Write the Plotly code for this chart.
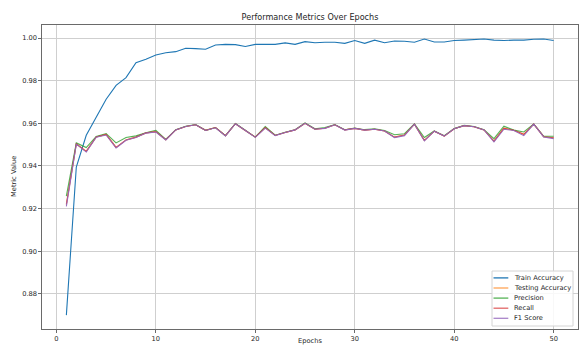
import plotly.graph_objects as go

# ---- data -------------------------------------------------------------
epochs = list(range(1, 51))

train_accuracy = [
    0.8700, 0.9395, 0.9544, 0.9630, 0.9713, 0.9778, 0.9814, 0.9884, 0.9900, 0.9920,
    0.9931, 0.9936, 0.9952, 0.9950, 0.9947, 0.9967, 0.9970, 0.9969, 0.9960, 0.9970,
    0.9970, 0.9970, 0.9977, 0.9970, 0.9983, 0.9978, 0.9980, 0.9980, 0.9975, 0.9988,
    0.9975, 0.9990, 0.9978, 0.9986, 0.9985, 0.9980, 0.9995, 0.9981, 0.9981, 0.9988,
    0.9990, 0.9994, 0.9995, 0.9990, 0.9988, 0.9990, 0.9990, 0.9994, 0.9995, 0.9988,
]

testing_accuracy = [
    0.9220, 0.9504, 0.9468, 0.9536, 0.9548, 0.9487, 0.9522, 0.9535, 0.9555, 0.9561,
    0.9523, 0.9569, 0.9585, 0.9593, 0.9567, 0.9580, 0.9542, 0.9598, 0.9566, 0.9535,
    0.9580, 0.9543, 0.9557, 0.9569, 0.9600, 0.9572, 0.9577, 0.9593, 0.9569, 0.9576,
    0.9568, 0.9572, 0.9564, 0.9535, 0.9545, 0.9596, 0.9520, 0.9563, 0.9540, 0.9574,
    0.9589, 0.9584, 0.9569, 0.9516, 0.9577, 0.9567, 0.9548, 0.9596, 0.9537, 0.9532,
]

precision = [
    0.9258, 0.9508, 0.9486, 0.9538, 0.9552, 0.9508, 0.9533, 0.9541, 0.9556, 0.9567,
    0.9524, 0.9570, 0.9586, 0.9594, 0.9567, 0.9580, 0.9542, 0.9599, 0.9567, 0.9535,
    0.9585, 0.9544, 0.9558, 0.9570, 0.9602, 0.9574, 0.9580, 0.9594, 0.9570, 0.9578,
    0.9570, 0.9574, 0.9566, 0.9546, 0.9551, 0.9597, 0.9533, 0.9564, 0.9542, 0.9575,
    0.9590, 0.9585, 0.9570, 0.9528, 0.9586, 0.9568, 0.9559, 0.9597, 0.9539, 0.9539,
]

recall = [
    0.9220, 0.9504, 0.9468, 0.9536, 0.9548, 0.9487, 0.9522, 0.9535, 0.9555, 0.9561,
    0.9523, 0.9569, 0.9585, 0.9593, 0.9567, 0.9580, 0.9542, 0.9598, 0.9566, 0.9535,
    0.9580, 0.9543, 0.9557, 0.9569, 0.9600, 0.9572, 0.9577, 0.9593, 0.9569, 0.9576,
    0.9568, 0.9572, 0.9564, 0.9535, 0.9545, 0.9596, 0.9520, 0.9563, 0.9540, 0.9574,
    0.9589, 0.9584, 0.9569, 0.9516, 0.9577, 0.9567, 0.9548, 0.9596, 0.9537, 0.9532,
]

f1_score = [
    0.9210, 0.9502, 0.9465, 0.9535, 0.9545, 0.9484, 0.9520, 0.9533, 0.9554, 0.9559,
    0.9522, 0.9569, 0.9585, 0.9593, 0.9566, 0.9579, 0.9541, 0.9598, 0.9566, 0.9534,
    0.9577, 0.9542, 0.9557, 0.9569, 0.9600, 0.9572, 0.9576, 0.9593, 0.9568, 0.9576,
    0.9568, 0.9572, 0.9564, 0.9533, 0.9542, 0.9596, 0.9517, 0.9563, 0.9540, 0.9574,
    0.9589, 0.9584, 0.9569, 0.9513, 0.9572, 0.9566, 0.9542, 0.9596, 0.9536, 0.9528,
]

series_names = ["Train Accuracy", "Testing Accuracy", "Precision", "Recall", "F1 Score"]
series_values = [train_accuracy, testing_accuracy, precision, recall, f1_score]
series_colors = ["#1f77b4", "#ff7f0e", "#2ca02c", "#d62728", "#9467bd"]
series_opacity = [1.0, 0.7, 0.8, 0.7, 0.95]

x_ticks = [0, 10, 20, 30, 40, 50]
y_ticks = [0.88, 0.90, 0.92, 0.94, 0.96, 0.98, 1.00]

# ---- geometry -----------------------------------------------------------
W, H = 581, 347
M_L, M_R, M_T, M_B = 42, 3, 25, 18
PW, PH = W - M_L - M_R, H - M_T - M_B

FONT = "DejaVu Sans"
TXT = "#262626"


def px_x(p):
    return (p - M_L) / PW


def px_y(p):
    return (H - M_B - p) / PH


fig = go.Figure()
for name, vals, col, op in zip(series_names, series_values, series_colors, series_opacity):
    fig.add_trace(go.Scatter(
        x=epochs, y=vals, mode="lines", name=name,
        line=dict(color=col, width=1.1), opacity=op, showlegend=False,
    ))

axis_common = dict(
    showgrid=True, gridcolor="#cfcfcf", gridwidth=1,
    showline=True, linecolor="#6a6a6a", linewidth=1.2, mirror=True,
    ticks="outside", ticklen=2.5, tickcolor="#6a6a6a", tickwidth=1,
    zeroline=False, tickfont=dict(family=FONT, size=6.7, color=TXT),
)

fig.update_xaxes(range=[-1.45, 52.45], tickvals=x_ticks, **axis_common)
fig.update_yaxes(range=[0.8635, 1.0061], tickvals=y_ticks, tickformat=".2f", **axis_common)

# legend box (lower right)
shapes = [dict(
    type="rect", xref="paper", yref="paper",
    x0=px_x(492), x1=px_x(573), y0=px_y(326), y1=px_y(271),
    line=dict(color="#d4d4d4", width=1), fillcolor="rgba(255,255,255,0.85)", layer="above",
)]
annotations = []
row0, step = 277.9, 10.1
for i, (name, col, op) in enumerate(zip(series_names, series_colors, series_opacity)):
    yy = px_y(row0 + i * step)
    shapes.append(dict(
        type="line", xref="paper", yref="paper",
        x0=px_x(493.5), x1=px_x(508.3), y0=yy, y1=yy,
        line=dict(color=col, width=1.3), opacity=min(op, 0.8) if i else 1.0, layer="above",
    ))
    annotations.append(dict(
        xref="paper", yref="paper", x=px_x(511.5), y=yy, text=name,
        xanchor="left", yanchor="middle", showarrow=False,
        font=dict(family=FONT, size=6.7, color=TXT),
    ))

# axis titles
annotations.append(dict(
    xref="paper", yref="paper", x=0.5, y=px_y(347), text="Epochs",
    xanchor="center", yanchor="bottom", showarrow=False,
    font=dict(family=FONT, size=6.7, color=TXT),
))
annotations.append(dict(
    xref="paper", yref="paper", x=px_x(14), y=0.5, text="Metric Value",
    xanchor="center", yanchor="middle", showarrow=False, textangle=-90,
    font=dict(family=FONT, size=6.7, color=TXT),
))

fig.update_layout(
    width=W, height=H,
    margin=dict(l=M_L, r=M_R, t=M_T, b=M_B, pad=0),
    paper_bgcolor="white", plot_bgcolor="white",
    title=dict(
        text="Performance Metrics Over Epochs",
        x=(M_L + PW / 2) / W, xanchor="center", xref="container",
        y=(H - 17.5) / H, yanchor="middle", yref="container",
        font=dict(family=FONT, size=8.1, color=TXT),
    ),
    shapes=shapes, annotations=annotations, showlegend=False,
)

fig.write_html("out.html")
